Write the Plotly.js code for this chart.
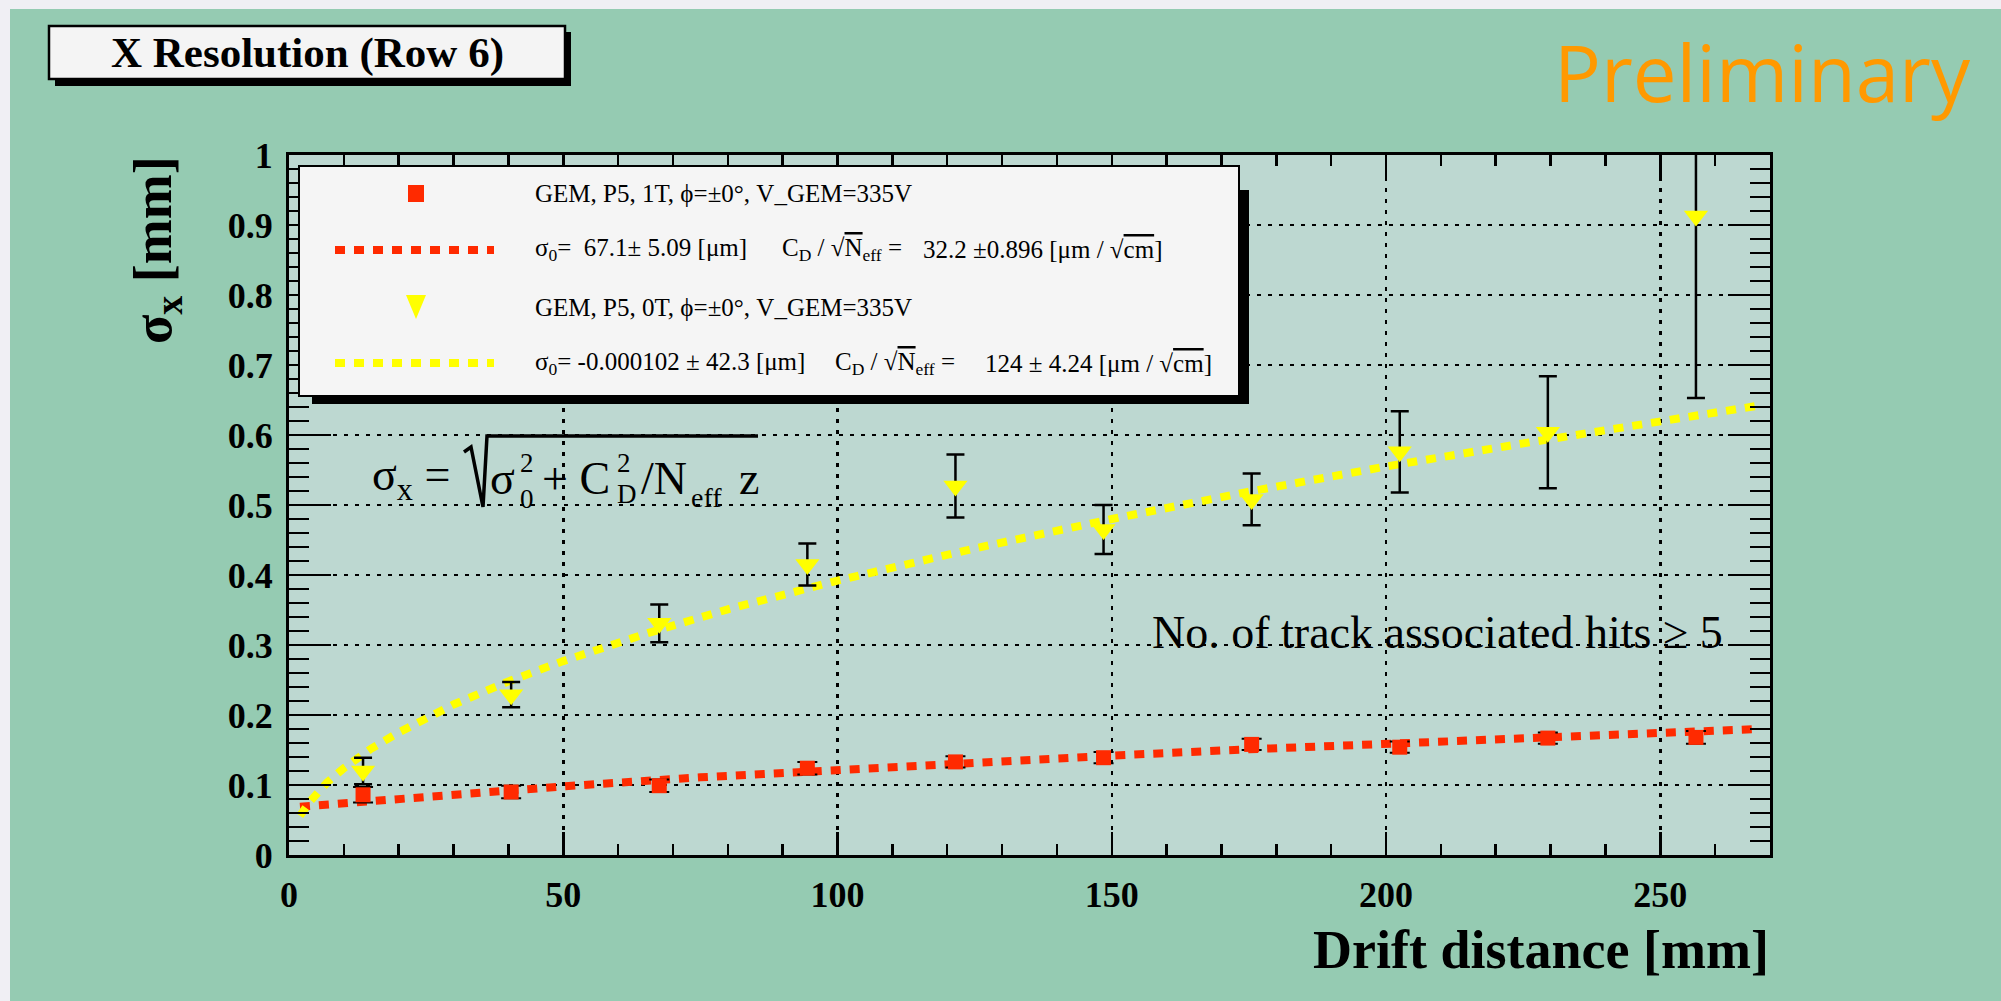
<!DOCTYPE html>
<html>
<head>
<meta charset="utf-8">
<script src="https://cdn.plot.ly/plotly-3.0.1.min.js"></script>
<style>
  html, body { margin:0; padding:0; background:#F0EFF4; width:2001px; height:1001px; overflow:hidden; }
  #chart { position:absolute; left:10px; top:9px; width:1991px; height:992px; }
</style>
</head>
<body>
<div id="chart"></div>
<script>
// ---------------- data ----------------
const binCenters = [13.5, 40.5, 67.5, 94.5, 121.5, 148.5, 175.5, 202.5, 229.5, 256.5];

const red1T      = [0.086, 0.090, 0.099, 0.124, 0.133, 0.139, 0.158, 0.154, 0.167, 0.168];
const red1TErr   = [0.011, 0.009, 0.009, 0.009, 0.008, 0.008, 0.008, 0.008, 0.008, 0.009];

const yel0T      = [0.120, 0.229, 0.331, 0.415, 0.527, 0.465, 0.508, 0.576, 0.604, 0.913];
const yel0TErr   = [0.019, 0.018, 0.027, 0.030, 0.045, 0.035, 0.037, 0.058, 0.080, 0.260];

const redFitX = [2, 10, 25, 50, 75, 100, 125, 150, 175, 200, 225, 250, 268];
const redFitY = [0.069, 0.074, 0.084, 0.098, 0.111, 0.122, 0.132, 0.142, 0.151, 0.159, 0.167, 0.174, 0.180];

const yelFitX = [2, 4, 7, 10, 15, 20, 30, 40, 50, 65, 80, 100, 125, 150, 175, 200, 225, 250, 268];
const yelFitY = [0.056, 0.078, 0.104, 0.124, 0.152, 0.175, 0.215, 0.248, 0.277, 0.316, 0.351, 0.392, 0.438, 0.480, 0.519, 0.555, 0.588, 0.620, 0.642];

const xTickVals = [0, 50, 100, 150, 200, 250];
const yTickVals = [0, 0.1, 0.2, 0.3, 0.4, 0.5, 0.6, 0.7, 0.8, 0.9, 1];

const legendLabels = [
  "GEM, P5, 1T, \u03D5=\u00B10\u00B0, V_GEM=335V",
  "GEM, P5, 0T, \u03D5=\u00B10\u00B0, V_GEM=335V"
];

// ---------------- styles ----------------
const RED = '#FF2A00';
const YEL = '#FFFF00';
const SERIF = 'Liberation Serif, Times New Roman, serif';

// page pixel -> paper coords helpers (plot area on page: 289..1770 x 155..855)
const L = 289, R = 1770, T = 155, B = 855;
const W = R - L, H = B - T;
const px = x => (x - L) / W;
const py = y => (B - y) / H;

const traces = [
  { x: redFitX, y: redFitY, mode: 'lines', type: 'scatter', hoverinfo: 'skip',
    line: { color: RED, width: 8, dash: '10px,9px' } },
  { x: binCenters, y: red1T, mode: 'markers', type: 'scatter',
    marker: { symbol: 'square', size: 15, color: RED },
    error_y: { type: 'data', array: red1TErr, visible: true, color: 'black', thickness: 2, width: 10 } },
  { x: yelFitX, y: yelFitY, mode: 'lines', type: 'scatter', hoverinfo: 'skip',
    line: { color: YEL, width: 8, dash: '10px,9px' } },
  { x: binCenters, y: yel0T, mode: 'markers', type: 'scatter',
    marker: { symbol: 'triangle-down', size: 21, color: YEL },
    error_y: { type: 'data', array: yel0TErr, visible: true, color: 'black', thickness: 2.5, width: 9 } }
];

function tri(cx, cy, w, h) {
  return 'M ' + px(cx - w/2) + ' ' + py(cy - h/2) + ' L ' + px(cx + w/2) + ' ' + py(cy - h/2) +
         ' L ' + px(cx) + ' ' + py(cy + h/2) + ' Z';
}

const shapes = [
  // title box
  { type:'rect', xref:'paper', yref:'paper', x0:px(55), x1:px(571), y0:py(86), y1:py(32), fillcolor:'black', line:{width:0}, layer:'above' },
  { type:'rect', xref:'paper', yref:'paper', x0:px(49), x1:px(565), y0:py(79), y1:py(26), fillcolor:'#F4F4F4', line:{color:'black', width:2.5}, layer:'above' },
  // legend box
  { type:'rect', xref:'paper', yref:'paper', x0:px(312), x1:px(1249), y0:py(404), y1:py(190), fillcolor:'black', line:{width:0}, layer:'above' },
  { type:'rect', xref:'paper', yref:'paper', x0:px(299), x1:px(1239), y0:py(396), y1:py(166), fillcolor:'#F5F5F5', line:{color:'black', width:2}, layer:'above' },
  // legend symbols
  { type:'rect', xref:'paper', yref:'paper', x0:px(408), x1:px(424), y0:py(202), y1:py(185), fillcolor:RED, line:{width:0}, layer:'above' },
  { type:'line', xref:'paper', yref:'paper', x0:px(335), x1:px(494), y0:py(250), y1:py(250), line:{color:RED, width:8, dash:'10px,9px'}, layer:'above' },
  { type:'path', xref:'paper', yref:'paper', path: tri(416, 307, 20, 24), fillcolor:YEL, line:{width:0}, layer:'above' },
  { type:'line', xref:'paper', yref:'paper', x0:px(335), x1:px(494), y0:py(363), y1:py(363), line:{color:YEL, width:8, dash:'10px,9px'}, layer:'above' },
  // formula radical
  { type:'path', xref:'paper', yref:'paper',
    path: 'M ' + px(464) + ' ' + py(452) + ' L ' + px(471) + ' ' + py(447) + ' L ' + px(483) + ' ' + py(507) +
          ' L ' + px(487) + ' ' + py(436) + ' L ' + px(758) + ' ' + py(436),
    line:{color:'black', width:3.5}, layer:'above' }
];

function ann(x, y, text, size, opts) {
  return Object.assign({
    xref:'paper', yref:'paper', x:px(x), y:py(y), text:text, showarrow:false,
    xanchor:'left', yanchor:'middle',
    font:{ family:SERIF, size:size, color:'black' }
  }, opts || {});
}

const annotations = [
  ann(307, 53, 'X Resolution (Row 6)', 43, { xanchor:'center', font:{family:SERIF, size:43, color:'black', weight:700} }),
  ann(1973, 72, 'Preliminary', 78, { xanchor:'right', font:{family:'Open Sans, sans-serif', size:78, color:'#FF9900'} }),
  // y axis title
  ann(157, 250, '\u03C3<sub>x</sub> [mm]', 54, { xanchor:'center', textangle:-90, font:{family:SERIF, size:54, color:'black', weight:700} }),
  // x axis title
  ann(1771, 950, 'Drift distance [mm]', 54, { xanchor:'right', font:{family:SERIF, size:54, color:'black', weight:700} }),
  // legend texts
  ann(533, 193, legendLabels[0], 25),
  ann(533, 250, '\u03C3<sub>0</sub>=\u00A0 67.1\u00B1 5.09 [\u03BCm]', 25),
  ann(780, 250, 'C<sub>D</sub> / <b>\u221A</b><span style="text-decoration:overline">N</span><sub>eff</sub> =', 25),
  ann(921, 250, '32.2 \u00B10.896 [\u03BCm / <b>\u221A</b><span style="text-decoration:overline">cm</span>]', 25),
  ann(533, 307, legendLabels[1], 25),
  ann(533, 363, '\u03C3<sub>0</sub>= -0.000102 \u00B1 42.3 [\u03BCm]', 25),
  ann(833, 363, 'C<sub>D</sub> / <b>\u221A</b><span style="text-decoration:overline">N</span><sub>eff</sub> =', 25),
  ann(983, 363, '124 \u00B1 4.24 [\u03BCm / <b>\u221A</b><span style="text-decoration:overline">cm</span>]', 25),
  // formula: sigma_x = sqrt(sigma_0^2 + C_D^2/N_eff z)
  ann(370, 478, '\u03C3<sub>x</sub> =', 46),
  ann(488, 478, '\u03C3', 46),
  ann(518, 499, '0', 27),
  ann(518, 463, '2', 27),
  ann(540, 478, '+ C', 46),
  ann(615, 494, 'D', 27),
  ann(615, 463, '2', 27),
  ann(639, 478, '/N', 46),
  ann(689, 497, 'eff', 28),
  ann(737, 478, 'z', 46),
  // hits note
  ann(1725, 632, 'No. of track associated hits \u2265 5', 46, { xanchor:'right' })
];

const axisCommon = {
  showline:true, linecolor:'black', linewidth:3, mirror:'ticks',
  ticks:'inside', tickcolor:'black', tickwidth:2.5,
  showgrid:true, gridcolor:'black', gridwidth:2.5, griddash:'4px,7px',
  zeroline:false,
  tickfont:{ family:SERIF, size:36, color:'black', weight:700 },
  fixedrange:true
};

const layout = {
  width:1991, height:992,
  margin:{ l:279, r:231, t:146, b:146, pad:0 },
  paper_bgcolor:'#95CBB2',
  plot_bgcolor:'#BDD8D1',
  showlegend:false,
  xaxis: Object.assign({}, axisCommon, {
    range:[0, 270], tickmode:'array', tickvals:xTickVals, ticktext:xTickVals.map(String),
    ticklen:23, ticklabelstandoff:6,
    minor:{ dtick:10, tick0:0, ticks:'inside', ticklen:11, tickwidth:2.5, tickcolor:'black', showgrid:false }
  }),
  yaxis: Object.assign({}, axisCommon, {
    range:[0, 1], tickmode:'array', tickvals:yTickVals, ticktext:yTickVals.map(String),
    ticklen:42, ticklabelstandoff:6,
    minor:{ dtick:0.02, tick0:0, ticks:'inside', ticklen:20, tickwidth:2.5, tickcolor:'black', showgrid:false }
  }),
  shapes: shapes,
  annotations: annotations
};

Plotly.newPlot('chart', traces, layout, { displayModeBar:false, staticPlot:true });
</script>
</body>
</html>
